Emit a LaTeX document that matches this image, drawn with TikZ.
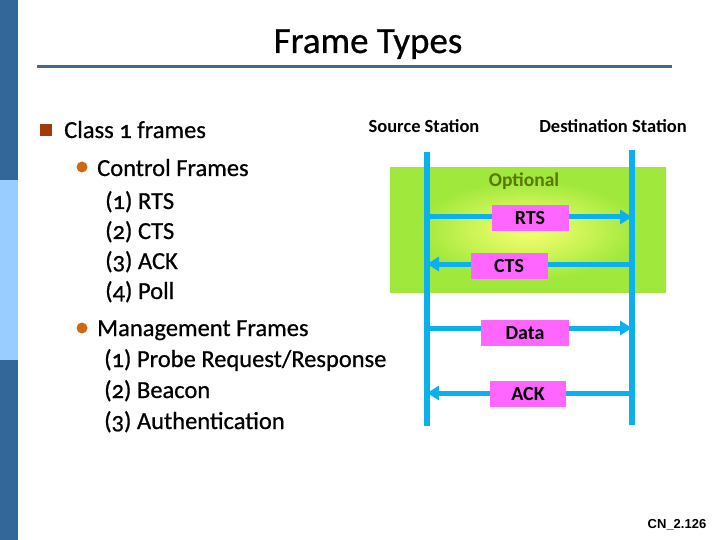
\documentclass[tikz,border=0pt]{standalone}
\usepackage{fontspec}
\setmainfont{Carlito}[Numbers=OldStyle]
\newfontfamily\slidefont{Carlito}[Numbers=OldStyle, FakeBold=0.7]
\newfontfamily\arialfont{Liberation Sans}
\usetikzlibrary{positioning,arrows.meta,backgrounds}

\definecolor{bardark}{RGB}{51,102,153}
\definecolor{barlight}{RGB}{153,204,255}
\definecolor{rulecol}{RGB}{70,105,140}
\definecolor{sqcol}{RGB}{160,60,10}
\definecolor{dotcol}{RGB}{205,105,20}
\definecolor{lifecol}{RGB}{11,176,238}
\definecolor{optgreen}{RGB}{160,232,60}
\definecolor{glowy}{RGB}{245,255,110}
\definecolor{optlabcol}{RGB}{90,120,0}
\definecolor{msgcol}{RGB}{255,102,255}

\pgfdeclareradialshading{optglow}{\pgfpointorigin}{%
  color(0bp)=(glowy); color(7bp)=(glowy!70!optgreen);
  color(20bp)=(optgreen); color(50bp)=(optgreen)}

\begin{document}
\begin{tikzpicture}[
  x=1pt, y=-1pt,
  every node/.style={inner sep=0pt},
  heading/.style={anchor=base, font=\slidefont\fontsize{37}{42}\selectfont},
  lvlone/.style={anchor=base west, font=\slidefont\fontsize{24.5}{28}\selectfont},
  lvltwo/.style={anchor=base west, font=\slidefont\fontsize{24.5}{28}\selectfont},
  sqbul/.style={rectangle, fill=sqcol, minimum size=12pt},
  dotbul/.style={circle, fill=dotcol, minimum size=11pt},
  stn/.style={font=\bfseries\fontsize{18.5}{20}\selectfont},
  optbox/.style={rectangle, shading=optglow, minimum width=276pt, minimum height=124pt},
  optlab/.style={font=\bfseries\fontsize{19.5}{22}\selectfont, text=optlabcol},
  msgbox/.style={rectangle, fill=msgcol, minimum height=26pt,
                 font=\bfseries\fontsize{20}{22}\selectfont},
  life/.style={lifecol, line width=6pt},
  msg/.style={lifecol, line width=5pt, -{Triangle[length=12pt,width=14pt]}}
]
\useasboundingbox (0,0) rectangle (720,540);

% side bar and title
\fill[bardark] (0,0) rectangle (18,180);
\fill[barlight] (0,180) rectangle (18,360);
\fill[bardark] (0,360) rectangle (18,540);
\node[heading] (title) at (368,53) {Frame Types};
\draw[rulecol, line width=3pt] (37,67) -- (672,67);

% bullet list
\node[sqbul] (b0) at (46,130) {};
\node[lvlone] (class1) at (64,138) {Class 1 frames};
\node[dotbul] (b1) at (82,167) {};
\node[lvlone] (ctrl) at (97,176) {Control Frames};
\foreach \t [count=\i] in {(1) RTS, (2) CTS, (3) ACK, (4) Poll}
  \node[lvltwo] (ctrl\i) at (105,179+30*\i) {\t};
\node[dotbul] (b2) at (82,328) {};
\node[lvlone] (mgmt) at (97,336) {Management Frames};
\foreach \t [count=\i] in {(1) Probe Request/Response, (2) Beacon, (3) Authentication}
  \node[lvltwo] (mgmt\i) at (104,336+31*\i) {\t};

% stations
\node[stn] (srclab) at (424,126) {Source Station};
\node[stn] (dstlab) at (613,126) {Destination Station};
\coordinate (srctop) at (427,152);
\coordinate (srcbot) at (427,426);
\coordinate (dsttop) at (632,150);
\coordinate (dstbot) at (632,425);

% frames
\node[optlab] (optlab) at (524,181) {Optional};
\node[msgbox, minimum width=77pt] (rts) at (530,218) {RTS};
\node[msgbox, minimum width=77pt] (cts) at (509,266) {CTS};
\node[msgbox, minimum width=88pt] (data) at (525,333) {Data};
\node[msgbox, minimum width=76pt] (ack) at (528,394) {ACK};

\begin{scope}[on background layer]
  \node[optbox] (opt) at (528,230) {};
  \draw[life] (srctop) -- (srcbot);
  \draw[life] (dsttop) -- (dstbot);
  \foreach \m/\a/\b/\s in {rts/srctop/dsttop/1, cts/dsttop/srctop/2,
                           data/srctop/dsttop/5, ack/dsttop/srctop/1}
    \draw[msg] ([yshift=\s pt]\m.center -| \a) -- ([yshift=\s pt]\m.center -| \b);
\end{scope}

\node[font=\arialfont\bfseries\fontsize{13}{15}\selectfont] (slideno) at (677,525) {CN\_2.126};
\end{tikzpicture}
\end{document}
